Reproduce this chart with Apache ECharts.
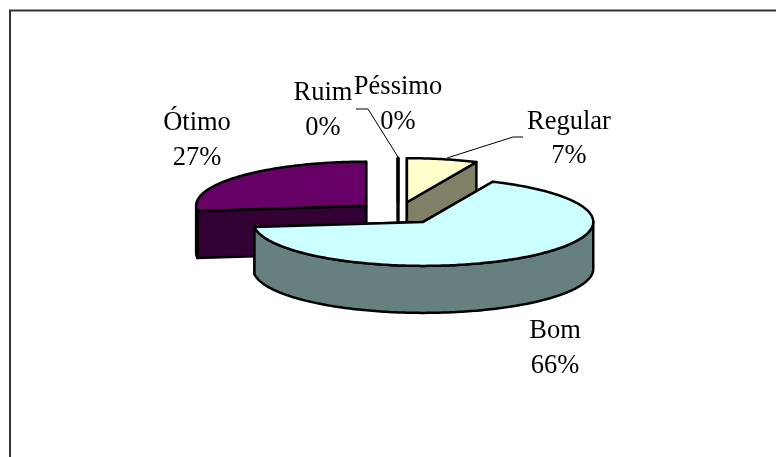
<!DOCTYPE html>
<html>
<head>
<meta charset="utf-8">
<style>html,body{margin:0;padding:0;background:#fff}#c{width:776px;height:457px}</style>
<script src="https://cdn.jsdelivr.net/npm/echarts@6/dist/echarts.min.js"></script>
</head>
<body>
<div id="c"></div>
<script>
// --- data ---
const categories = ['Péssimo', 'Ruim', 'Regular', 'Bom', 'Ótimo'];
const percents = [0, 0, 6.7, 66.4, 26.9];

// --- layout and styles, kept apart from the data ---
const topColors = {'Péssimo': '#9999FF', 'Ruim': '#993366', 'Regular': '#FFFFCC', 'Bom': '#CCFFFF', 'Ótimo': '#660066'};
const sideColors = {'Péssimo': '#4D4D80', 'Ruim': '#4D1A33', 'Regular': '#808066', 'Bom': '#668080', 'Ótimo': '#330033'};
const labelPlace = {
  'Péssimo': {x: 398, name: 95, pct: 130},
  'Ruim': {x: 323, name: 101, pct: 136},
  'Regular': {x: 569, name: 130, pct: 164},
  'Bom': {x: 555, name: 339, pct: 374},
  'Ótimo': {x: 197, name: 131, pct: 166}
};
const leaders = {
  'Péssimo': [[398, 157], [368, 109], [356, 109]],
  'Regular': [[447, 158], [513, 137], [523, 137]]
};
const CX = 398, CY = 213, RX = 170, RY = 44, DEPTH = 47, EXPLODE = 42.6;
const FONT = '26.5px "Liberation Serif", "Times New Roman", serif';

const total = percents.reduce((a, b) => a + b, 0);
const starts = [];
percents.reduce((acc, p, i) => { starts[i] = acc; return acc + p; }, 0);

function rim(cx, cy, deg) {
  const r = deg * Math.PI / 180;
  return [cx + RX * Math.sin(r), cy - RY * Math.cos(r)];
}
function down(p) { return [p[0], p[1] + DEPTH]; }
function arcPoints(cx, cy, a0, a1) {
  const pts = [];
  const n = Math.max(1, Math.ceil(a1 - a0));
  for (let i = 0; i <= n; i++) pts.push(rim(cx, cy, a0 + (a1 - a0) * i / n));
  return pts;
}
function renderItem(params, api) {
  const i = api.value(0);
  const name = categories[i];
  const pct = api.value(1);
  const a0 = api.value(2) / total * 360;
  const a1 = a0 + pct / total * 360;
  const mid = (a0 + a1) / 2 * Math.PI / 180;
  const cx = CX + EXPLODE * Math.sin(mid);
  const cy = CY - EXPLODE * (RY / RX) * Math.cos(mid);
  const base = Math.round(-Math.cos(mid) * 20) * 10 + 500;
  const stroke = {stroke: '#000', lineWidth: 2.5, lineJoin: 'round'};
  const children = [];
  const face = (pts, fill, dz) => children.push({
    type: 'polygon', z2: base + dz,
    shape: {points: pts},
    style: Object.assign({fill: fill}, stroke)
  });
  const apex = [cx, cy];
  const p0 = rim(cx, cy, a0), p1 = rim(cx, cy, a1);
  face([apex, p0, down(p0), down(apex)], sideColors[name], 0);
  face([apex, p1, down(p1), down(apex)], sideColors[name], 1);
  const w0 = Math.max(a0, 90), w1 = Math.min(a1, 270);
  if (w1 > w0) {
    const arc = arcPoints(cx, cy, w0, w1);
    face(arc.concat(arc.slice().reverse().map(down)), sideColors[name], 2);
  }
  face([apex].concat(arcPoints(cx, cy, a0, a1)), topColors[name], 3);

  const lab = labelPlace[name];
  const textEl = (s, y) => ({
    type: 'text', z2: 2000,
    style: {x: lab.x, y: y, text: s, fill: '#000', font: FONT, textAlign: 'center', textVerticalAlign: 'bottom'}
  });
  children.push(textEl(name, lab.name + 6), textEl(Math.round(pct) + '%', lab.pct + 6));
  if (leaders[name]) {
    children.push({
      type: 'polyline', z2: 1900,
      shape: {points: leaders[name]},
      style: {fill: 'none', stroke: '#000', lineWidth: 1}
    });
  }
  return {type: 'group', children: children};
}

const chart = echarts.init(document.getElementById('c'), null, {renderer: 'canvas'});
chart.setOption({
  animation: false,
  backgroundColor: '#fff',
  graphic: [{
    type: 'rect', silent: true, z: -1,
    shape: {x: 10, y: 10.5, width: 800, height: 500},
    style: {fill: 'none', stroke: '#333', lineWidth: 2}
  }],
  series: [{
    type: 'custom',
    coordinateSystem: 'none',
    silent: true,
    clip: false,
    renderItem: renderItem,
    data: percents.map((p, i) => [i, p, starts[i]])
  }]
});
</script>
</body>
</html>
